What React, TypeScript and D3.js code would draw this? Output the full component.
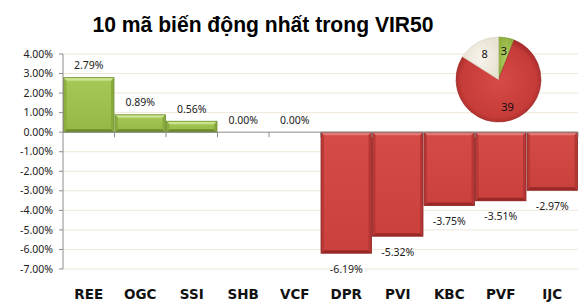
import React from "react";
import * as d3 from "d3";

const categories = ["REE", "OGC", "SSI", "SHB", "VCF", "DPR", "PVI", "KBC", "PVF", "IJC"];
const changes = [2.79, 0.89, 0.56, 0.0, 0.0, -6.19, -5.32, -3.75, -3.51, -2.97];
const yTicks = [4, 3, 2, 1, 0, -1, -2, -3, -4, -5, -6, -7];
const pieNames = ["Tăng", "Giảm", "Đứng giá"];
const pieCounts = [3, 39, 8];
const title = "10 mã biến động nhất trong VIR50";

const W = 587;
const H = 308;

const greenTheme = { face: "url(#gGreen)", top: "#cbe38e", bottom: "#6a8a28", side: "#88aa3c", stroke: "#6f8f2f" };
const redTheme = { face: "url(#gRed)", top: "#e37875", bottom: "#992826", side: "#b53634", stroke: "#8f2a28" };

function BevelBar({ x0, y0, w, h, theme }: { x0: number; y0: number; w: number; h: number; theme: typeof greenTheme }) {
  const b = Math.min(3, h / 2);
  const x1 = x0 + w;
  const y1 = y0 + h;
  const pts = (p: number[][]) => p.map((q) => q.join(",")).join(" ");
  return (
    <g>
      <rect x={x0} y={y0} width={w} height={h} fill={theme.face} />
      <polygon points={pts([[x0, y0], [x1, y0], [x1 - b, y0 + b], [x0 + b, y0 + b]])} fill={theme.top} />
      <polygon points={pts([[x0, y1], [x1, y1], [x1 - b, y1 - b], [x0 + b, y1 - b]])} fill={theme.bottom} />
      <polygon points={pts([[x0, y0], [x0 + b, y0 + b], [x0 + b, y1 - b], [x0, y1]])} fill={theme.side} opacity={0.85} />
      <polygon points={pts([[x1, y0], [x1 - b, y0 + b], [x1 - b, y1 - b], [x1, y1]])} fill={theme.side} />
      <rect x={x0} y={y0} width={w} height={h} fill="none" stroke={theme.stroke} strokeWidth={0.8} />
    </g>
  );
}

export default function App() {
  const x = d3.scaleBand<string>().domain(categories).range([63, 578]).padding(0);
  const y = d3.scaleLinear().domain([-7, 4]).range([269, 54]);
  const y0 = y(0);
  const fmt = (v: number) => v.toFixed(2) + "%";

  const pie = d3.pie<number>().sort(null).value((d) => d)(pieCounts);
  const arc = d3.arc<d3.PieArcDatum<number>>().innerRadius(0).outerRadius(42.5);
  const labelArc = d3.arc<d3.PieArcDatum<number>>().innerRadius(29).outerRadius(29);
  const pieFills = ["url(#pgGreen)", "url(#pgRed)", "url(#pgBeige)"];
  const pieStroke = ["#6f8f2a", "#9e2c2a", "#d8d2c0"];
  const cx = 498.5;
  const cy = 79.5;

  return (
    <svg width={W} height={H} style={{ display: "block", position: "absolute", left: 0, top: 0 }}>
      <defs>
        <linearGradient id="gGreen" x1="0" x2="0" y1="0" y2="1">
          <stop offset="0" stopColor="#a6c856" />
          <stop offset="1" stopColor="#94b846" />
        </linearGradient>
        <linearGradient id="gRed" x1="0" x2="0" y1="0" y2="1">
          <stop offset="0" stopColor="#d44b48" />
          <stop offset="1" stopColor="#c9403d" />
        </linearGradient>
        <radialGradient id="pgRed" cx="0.5" cy="0.5" r="0.55">
          <stop offset="0" stopColor="#d64a47" />
          <stop offset="0.8" stopColor="#c63c39" />
          <stop offset="1" stopColor="#9c2624" />
        </radialGradient>
        <radialGradient id="pgGreen" cx="0.5" cy="0.5" r="0.55">
          <stop offset="0" stopColor="#b0d060" />
          <stop offset="1" stopColor="#8fb03f" />
        </radialGradient>
        <radialGradient id="pgBeige" cx="0.5" cy="0.5" r="0.55">
          <stop offset="0" stopColor="#f7f4ec" />
          <stop offset="1" stopColor="#e8e2d2" />
        </radialGradient>
      </defs>
      <rect width={W} height={H} fill="#ffffff" />

      {/* gridlines */}
      {yTicks.filter((t) => t !== 0).map((t) => (
        <line key={"g" + t} x1={63} x2={578} y1={y(t)} y2={y(t)} stroke="#efe8d9" strokeWidth={1} />
      ))}

      {/* bars */}
      {categories.map((c, i) => {
        const v = changes[i];
        if (v === 0) return null;
        const x0 = x(c)!;
        const bw = x.bandwidth();
        const top = Math.min(y(v), y0);
        const h = Math.abs(y(v) - y0);
        return <BevelBar key={c} x0={x0 + 0.5} y0={top} w={bw - 1} h={h} theme={v > 0 ? greenTheme : redTheme} />;
      })}

      {/* y axis */}
      <line x1={63} x2={63} y1={y(4)} y2={y(-7)} stroke="#8c8c8c" strokeWidth={1} />
      {yTicks.map((t) => (
        <g key={"t" + t}>
          <line x1={59} x2={63} y1={y(t)} y2={y(t)} stroke="#8c8c8c" />
          <text x={53} y={y(t)} dy="0.35em" textAnchor="end" fontFamily="Noto Sans" fontSize={10.5} fill="#222">
            {fmt(t)}
          </text>
        </g>
      ))}
      {/* zero line */}
      <line x1={63} x2={578} y1={y0} y2={y0} stroke="#8c8c8c" strokeWidth={1} />
      {categories.map((c) => (
        <line key={"ct" + c} x1={x(c)! + x.bandwidth()} x2={x(c)! + x.bandwidth()} y1={y0} y2={y0 + 5} stroke="#8c8c8c" />
      ))}

      {/* value labels */}
      {categories.map((c, i) => {
        const v = changes[i];
        const cxb = x(c)! + x.bandwidth() / 2;
        const ly = v >= 0 ? y(v) - 12 : y(v) + 16;
        return (
          <text key={"v" + c} x={cxb} y={ly} dy="0.35em" textAnchor="middle" fontFamily="Noto Sans" fontSize={10.5} fill="#222">
            {fmt(v)}
          </text>
        );
      })}

      {/* category labels */}
      {categories.map((c) => (
        <text key={"c" + c} x={x(c)! + x.bandwidth() / 2} y={299} textAnchor="middle" fontFamily="DejaVu Sans" fontWeight="bold" fontSize={13.5} fill="#111">
          {c}
        </text>
      ))}

      {/* title */}
      <text x={263} y={32} textAnchor="middle" fontFamily="Liberation Sans" fontWeight="bold" fontSize={22.5} textLength={341} lengthAdjust="spacingAndGlyphs" fill="#000">
        {title}
      </text>

      {/* pie */}
      <g transform={`translate(${cx},${cy})`}>
        {pie.map((d, i) => (
          <path key={pieNames[i]} d={arc(d)!} fill={pieFills[i]} stroke={pieStroke[i]} strokeWidth={0.6} />
        ))}
        {pie.map((d, i) => {
          const [lx, ly] = labelArc.centroid(d);
          return (
            <text key={"pl" + i} x={lx} y={ly} dy="0.35em" textAnchor="middle" fontFamily="Noto Sans" fontSize={11} fill="#111">
              {pieCounts[i]}
            </text>
          );
        })}
      </g>
    </svg>
  );
}
